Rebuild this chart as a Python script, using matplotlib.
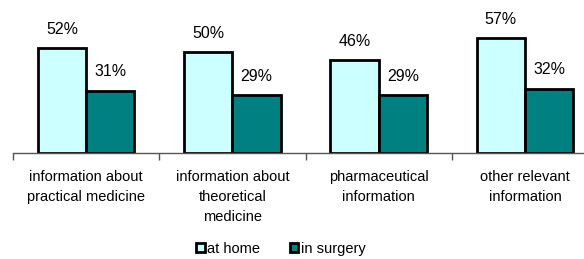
import matplotlib.pyplot as plt
import numpy as np

plt.rcParams['font.family'] = ['Liberation Sans', 'DejaVu Sans']

categories = ["information about\npractical medicine",
              "information about\ntheoretical\nmedicine",
              "pharmaceutical\ninformation",
              "other relevant\ninformation"]
at_home = [52, 50, 46, 57]
in_surgery = [31, 29, 29, 32]
series = ["at home", "in surgery"]
colors = ["#CCFFFF", "#008080"]

fig = plt.figure(figsize=(5.84, 2.59), dpi=100)
ax = fig.add_axes([13 / 584, 106 / 259, 585 / 584, 153 / 259])

x = np.arange(len(categories))
w = 0.33
b1 = ax.bar(x - w / 2, at_home, w, color=colors[0], edgecolor="black", linewidth=2, label=series[0])
b2 = ax.bar(x + w / 2, in_surgery, w, color=colors[1], edgecolor="black", linewidth=2, label=series[1])
ax.bar_label(b1, labels=[f"{v}%" for v in at_home], padding=8, fontsize=11.5)
ax.bar_label(b2, labels=[f"{v}%" for v in in_surgery], padding=8, fontsize=11.5)

ax.set_xlim(-0.5, 3.5)
ax.set_ylim(0, 76)
for s in ["top", "right", "left"]:
    ax.spines[s].set_visible(False)
ax.spines["bottom"].set_color("#555555")
ax.spines["bottom"].set_linewidth(1)
ax.set_yticks([])

ax.set_xticks(x)
ax.set_xticklabels(categories, fontsize=10.5, linespacing=1.55)
ax.tick_params(axis="x", which="major", length=0, pad=12)
ax.set_xticks(np.arange(-0.5, 3.5, 1), minor=True)
ax.tick_params(axis="x", which="minor", length=5, width=1, color="#555555")

fig.legend(loc="center", bbox_to_anchor=(0.481, 0.04), ncol=2, frameon=False,
           fontsize=10.5, handlelength=0.6, handleheight=0.6, handletextpad=0.2,
           columnspacing=2.0, borderpad=0)

plt.savefig("out.png", dpi=100)
